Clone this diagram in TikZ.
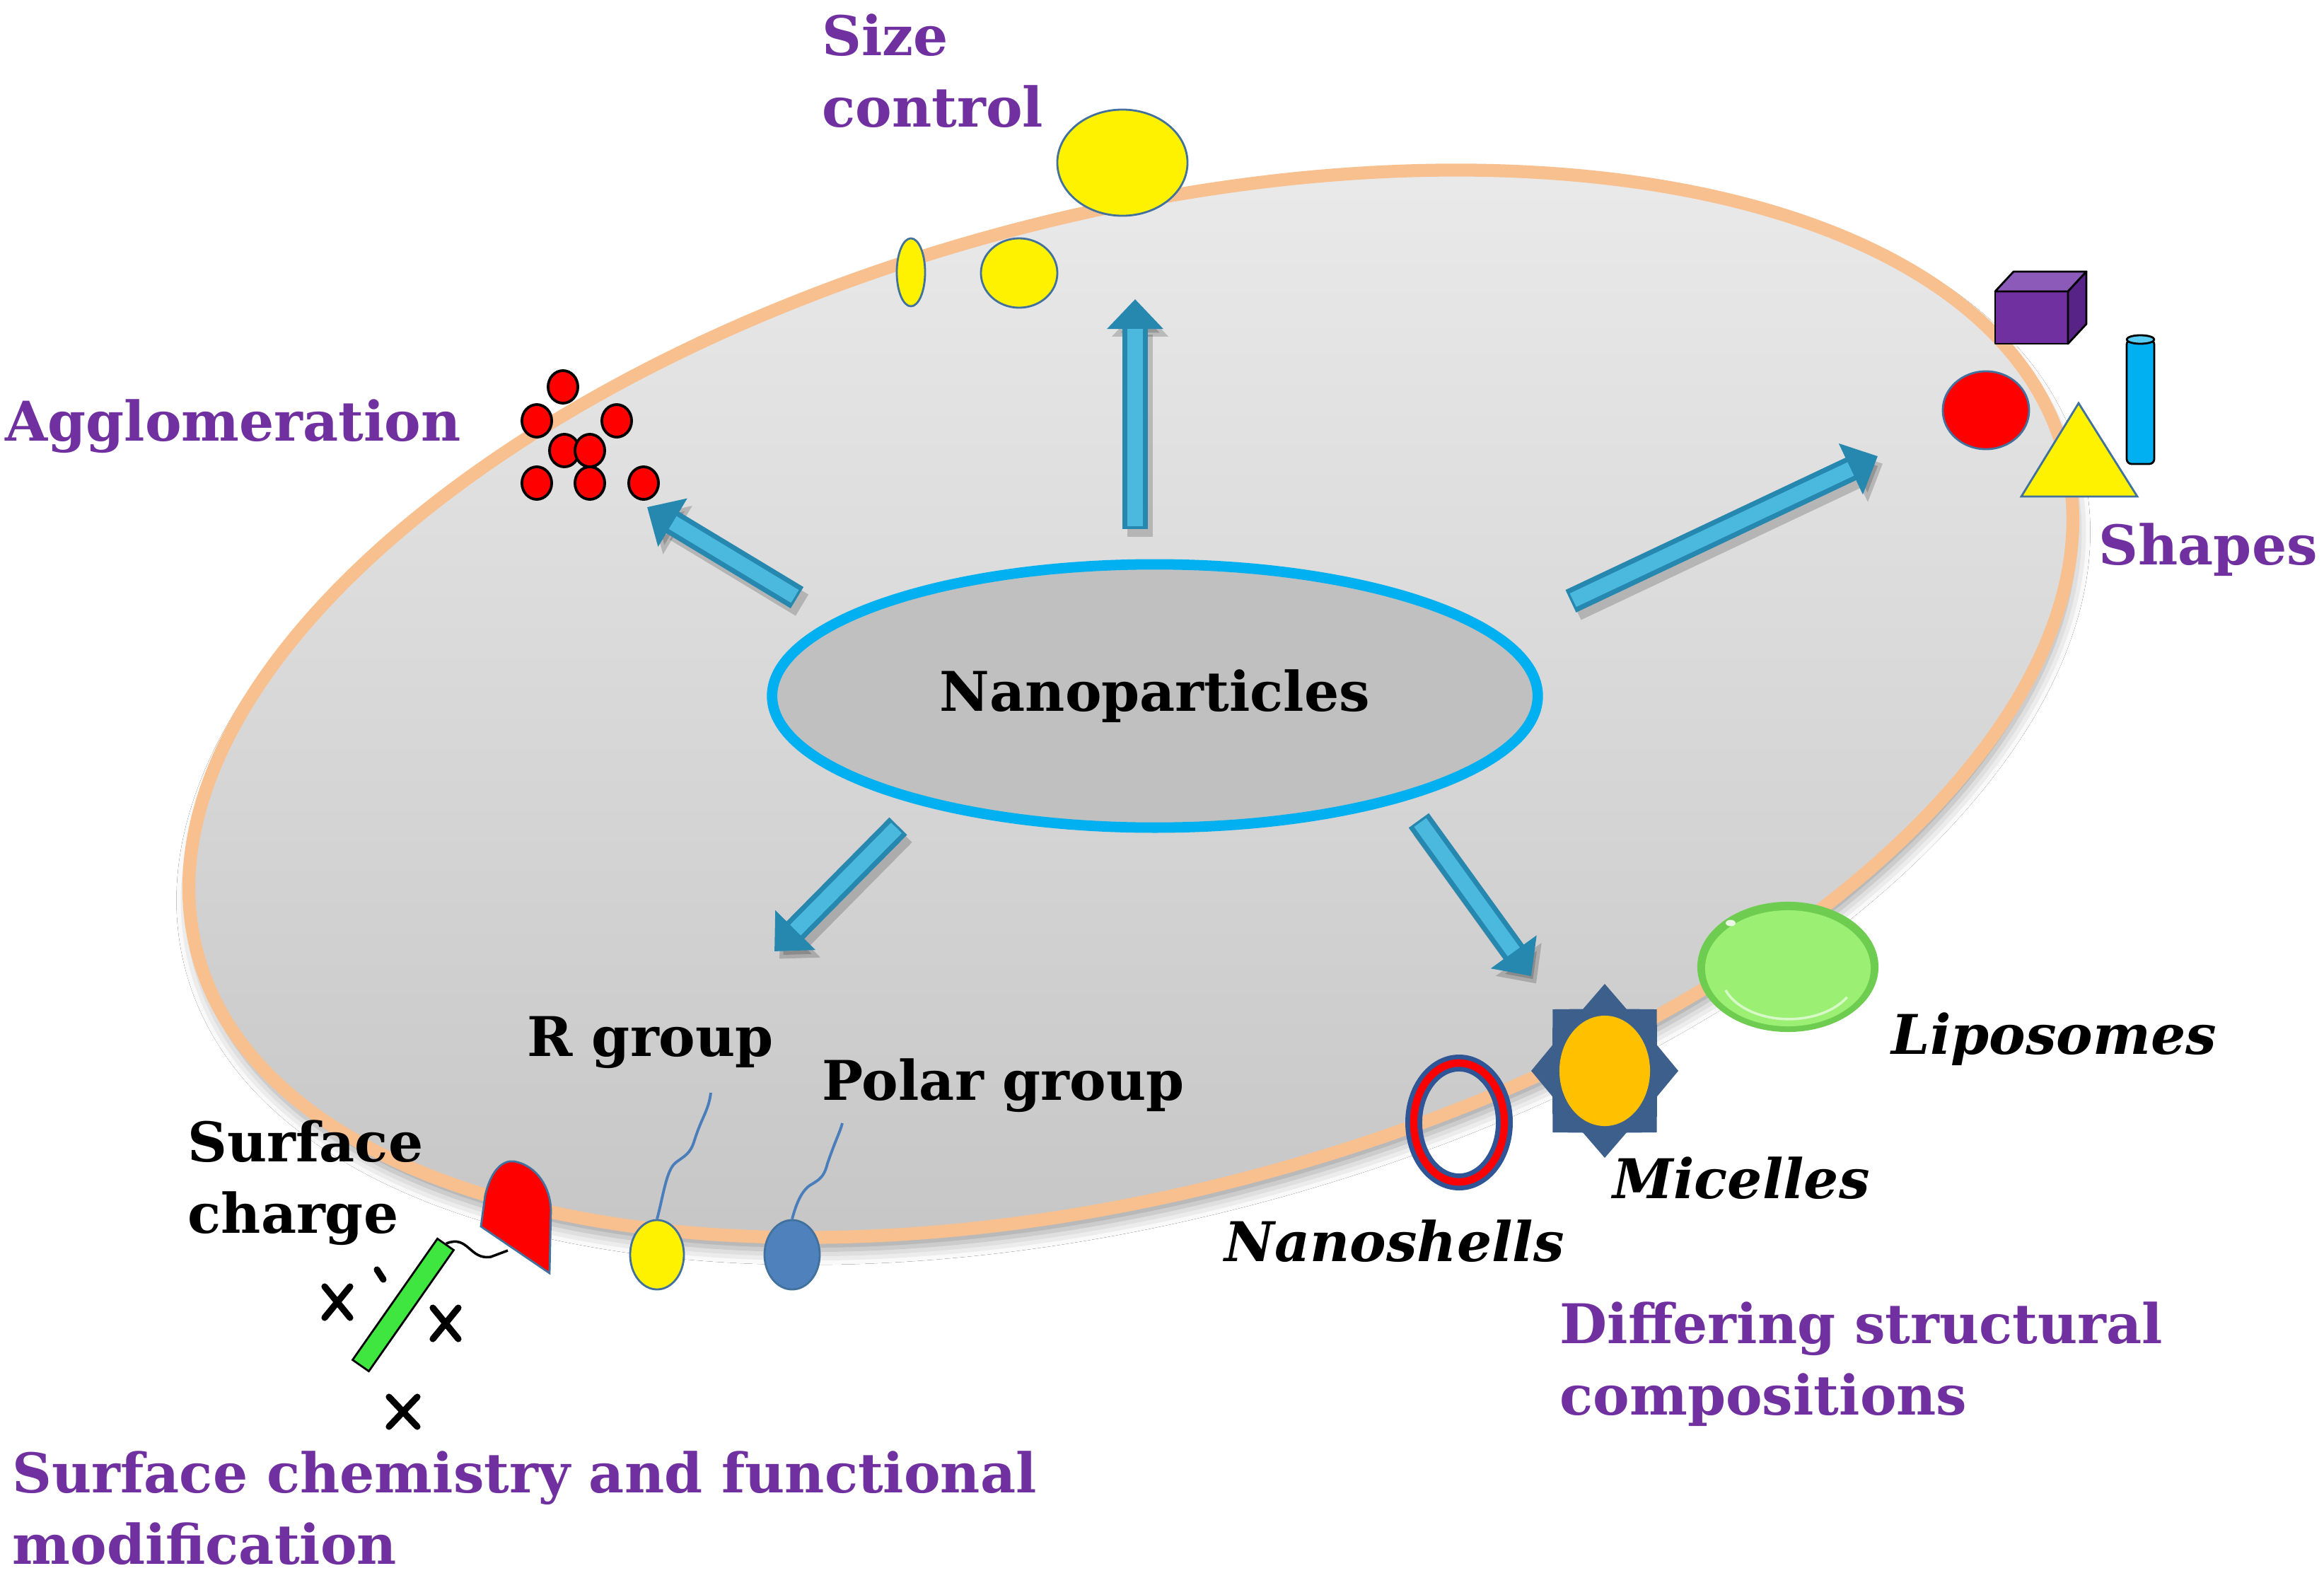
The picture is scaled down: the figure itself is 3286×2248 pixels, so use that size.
\documentclass[tikz,border=0pt]{standalone}
\usepackage{fontspec}
\setmainfont{DejaVu Serif}
\usetikzlibrary{shapes.geometric,arrows.meta,shadows.blur}
\definecolor{ringorange}{RGB}{249,192,143}
\definecolor{fillA}{RGB}{236,236,236}
\definecolor{fillB}{RGB}{196,196,196}
\definecolor{npcyan}{RGB}{0,176,240}
\definecolor{npgray}{RGB}{192,192,192}
\definecolor{labpurple}{RGB}{112,48,160}
\definecolor{edgeblue}{RGB}{65,113,156}
\definecolor{arrowmid}{RGB}{38,135,175}
\definecolor{arrowhi}{RGB}{75,185,222}
\definecolor{polarblue}{RGB}{79,129,189}
\definecolor{wireblue}{RGB}{74,126,187}
\definecolor{rodgreen}{RGB}{64,230,64}
\definecolor{cubefront}{RGB}{112,48,160}
\definecolor{cubetop}{RGB}{140,90,185}
\definecolor{cubeside}{RGB}{88,35,135}
\definecolor{cylblue}{RGB}{0,176,240}
\definecolor{cyltop}{RGB}{90,205,245}
\definecolor{lipodark}{RGB}{110,205,80}
\definecolor{lipolight}{RGB}{155,240,115}
\definecolor{micstar}{RGB}{60,95,140}
\definecolor{micorange}{RGB}{255,192,0}
\definecolor{shellblue}{RGB}{47,85,151}
\begin{document}
\begin{tikzpicture}[x=0.01cm,y=-0.01cm,
  lab/.style={font=\fontsize{22}{28.5}\selectfont\bfseries, inner sep=0pt, align=left},
  purplab/.style={lab, text=labpurple},
  itlab/.style={font=\fontsize{22}{28.5}\selectfont\bfseries\itshape, inner sep=0pt},
  bigarrow/.style={line width=10pt, draw=arrowmid, -{Triangle[width=22pt,length=12pt]}},
  arrowshine/.style={line width=6pt, draw=arrowhi, shorten >=12pt, shorten <=1pt},
  arrowshadow/.style={line width=10pt, draw=black, opacity=0.18, -{Triangle[width=22pt,length=12pt]}, transform canvas={shift={(2pt,-3pt)}}},
  particle/.style={draw=edgeblue, line width=0.8pt, inner sep=0pt},
  redot/.style={ellipse, draw=black, line width=1.1pt, fill=red, minimum width=0.42cm, minimum height=0.46cm, inner sep=0pt},
  cubeedge/.style={draw=black, line width=0.8pt, line join=round},
  wire/.style={draw=wireblue, line width=1.1pt},
  charge/.style={line width=2.6pt, line cap=round}]
\useasboundingbox (0,0) rectangle (3286,2248);
\fill[white] (0,0) rectangle (3286,2248);

% big cell ellipse
\node[ellipse, draw=ringorange, line width=5.2pt, top color=fillA, bottom color=fillB,
      minimum width=27.31cm, minimum height=13.79cm, inner sep=0pt, rotate=15,
      blur shadow={shadow xshift=1pt, shadow yshift=-5pt, shadow blur radius=6pt, shadow opacity=40}]
      (ring) at (1599,995) {};

% central node
\node[ellipse, draw=npcyan, line width=4.2pt, fill=npgray, minimum width=10.82cm,
      minimum height=3.72cm, inner sep=0pt, font=\fontsize{22}{28.5}\selectfont\bfseries]
      (np) at (1633,984) {Nanoparticles};

% arrows
\coordinate (upS) at (1605,748);  \coordinate (upE) at (1605,423);
\coordinate (ulS) at (1127,845);  \coordinate (ulE) at (915,717);
\coordinate (rtS) at (2221,850);  \coordinate (rtE) at (2655,645);
\coordinate (llS) at (1270,1168); \coordinate (llE) at (1095,1345);
\coordinate (lrS) at (2006,1160); \coordinate (lrE) at (2165,1380);
\foreach \s/\e in {upS/upE, ulS/ulE, rtS/rtE, llS/llE, lrS/lrE}{
  \draw[arrowshadow] (\s) -- (\e);
  \draw[bigarrow] (\s) -- (\e);
  \draw[arrowshine] (\s) -- (\e);
}

% size control
\node[ellipse, particle, fill=yellow, minimum width=1.84cm, minimum height=1.50cm] (szL) at (1587,230) {};
\node[ellipse, particle, fill=yellow, minimum width=1.08cm, minimum height=0.98cm] (szM) at (1441,386) {};
\node[ellipse, particle, fill=yellow, minimum width=0.40cm, minimum height=0.96cm] (szS) at (1288,385) {};

% agglomeration
\node[redot] (ag1) at (796,547) {};
\node[redot] (ag2) at (759,595) {};
\node[redot] (ag3) at (872,595) {};
\node[redot] (ag4) at (798,637) {};
\node[redot] (ag5) at (834,637) {};
\node[redot] (ag6) at (759,683) {};
\node[redot] (ag7) at (834,683) {};
\node[redot] (ag8) at (910,683) {};

% shapes
\draw[cubeedge, fill=cubefront] (2821,412) rectangle (2924,486);
\draw[cubeedge, fill=cubetop] (2821,412) -- (2847,384) -- (2950,384) -- (2924,412) -- cycle;
\draw[cubeedge, fill=cubeside] (2924,412) -- (2950,384) -- (2950,458) -- (2924,486) -- cycle;
\draw[cubeedge, fill=cylblue, rounded corners=2pt] (3007,480) rectangle (3046,656);
\draw[cubeedge, fill=cyltop] (3026.5,480) ellipse [x radius=0.195cm, y radius=0.06cm];
\node[ellipse, particle, fill=red, minimum width=1.22cm, minimum height=1.10cm] (circ) at (2808,580) {};
\draw[particle, fill=yellow] (2939,570) -- (3022,702) -- (2858,702) -- cycle;

% liposome
\node[ellipse, fill=lipodark, minimum width=2.56cm, minimum height=1.84cm, inner sep=0pt] (lipo) at (2528,1367) {};
\fill[lipolight] (2528,1369) ellipse [x radius=1.17cm, y radius=0.82cm];
\draw[white, opacity=0.6, line width=1pt] (2440,1400) arc[start angle=200, end angle=330, x radius=0.95cm, y radius=0.62cm];
\fill[white, opacity=0.85] (2447,1305) ellipse [x radius=0.07cm, y radius=0.045cm];

% micelle
\begin{scope}[shift={(2269,1514)}, xscale=1.04, yscale=1.23]
\fill[micstar] (0:100) -- (22.5:77) -- (45:100) -- (67.5:77) -- (90:100) -- (112.5:77) -- (135:100) -- (157.5:77)
  -- (180:100) -- (202.5:77) -- (225:100) -- (247.5:77) -- (270:100) -- (292.5:77) -- (315:100) -- (337.5:77) -- cycle;
\end{scope}
\node[ellipse, fill=micorange, minimum width=1.28cm, minimum height=1.56cm, inner sep=0pt] (mic) at (2269,1514) {};

% nanoshell
\node[ellipse, draw=shellblue, line width=6.8pt, minimum width=1.28cm, minimum height=1.68cm, inner sep=0pt] (shell) at (2063,1587) {};
\draw[red, line width=3pt] (2063,1587) ellipse [x radius=0.64cm, y radius=0.84cm];

% R group and polar group
\node[ellipse, particle, fill=yellow, minimum width=0.76cm, minimum height=0.98cm] (rhead) at (929,1774) {};
\node[ellipse, particle, fill=polarblue, minimum width=0.78cm, minimum height=0.98cm] (phead) at (1120,1774) {};
\coordinate (rtop) at (1005,1545);
\coordinate (ptop) at (1191,1588);
\draw[wire] (rhead.north) .. controls (938,1690) and (942,1655) .. (955,1644)
  .. controls (968,1634) and (976,1632) .. (982,1612) .. controls (992,1580) and (1002,1570) .. (rtop);
\draw[wire] (phead.north) .. controls (1125,1705) and (1132,1685) .. (1145,1676)
  .. controls (1158,1668) and (1165,1665) .. (1170,1645) .. controls (1182,1610) and (1188,1600) .. (ptop);

% surface charge
\node[draw=black, line width=0.8pt, fill=rodgreen, minimum width=0.28cm, minimum height=2.09cm, inner sep=0pt, rotate=-35] (rod) at (570,1845) {};
\draw[particle, fill=red] (680,1734) -- (686,1690) .. controls (695,1652) and (712,1640) .. (727,1642)
  .. controls (760,1648) and (778,1680) .. (779,1710) -- (777,1800) -- cycle;
\coordinate (plug) at (718,1768);
\draw[black, line width=1pt] (rod.north) .. controls (662,1745) and (664,1782) .. (694,1777) -- (plug);
\draw[charge] (459,1819) -- (495,1863) (495,1819) -- (459,1863);
\draw[charge] (612,1849) -- (648,1893) (648,1849) -- (612,1893);
\draw[charge] (550,1975) -- (590,2017) (590,1975) -- (550,2017);
\draw[charge] (533,1795) -- (542,1809);

% labels
\node[purplab, anchor=base west] (tsize) at (1162,179) {Size\\control};
\node[purplab, anchor=base west] (tagg) at (7,623) {Agglomeration};
\node[purplab, anchor=base west] (tshape) at (2967,798) {Shapes};
\node[lab, anchor=base west] (trg) at (745,1493) {R group};
\node[lab, anchor=base west] (tpg) at (1162,1555) {Polar group};
\node[lab, anchor=base west] (tsc) at (265,1743) {Surface\\charge};
\node[purplab, anchor=base west] (tchem) at (17,2211) {Surface chemistry and functional\\modification};
\node[purplab, anchor=base west] (tdiff) at (2205,2000) {Differing structural\\compositions};
\node[itlab, anchor=base west] (tlipo) at (2674,1490) {Liposomes};
\node[itlab, anchor=base west] (tmic) at (2280,1694) {Micelles};
\node[itlab, anchor=base west] (tshell) at (1731,1783) {Nanoshells};
\end{tikzpicture}
\end{document}
